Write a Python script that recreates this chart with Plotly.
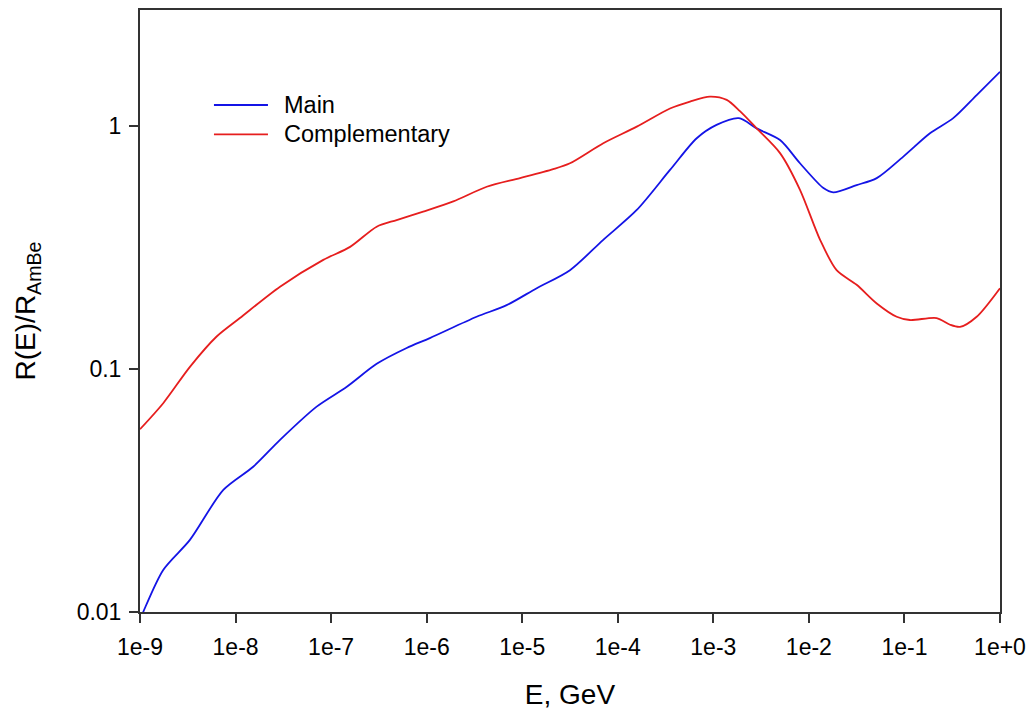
import plotly.graph_objects as go

# Complementary (red)
comp_E = [1.0e-9, 1.75e-9, 3.33e-9, 6.34e-9, 1.11e-8, 2.92e-8, 8.28e-8, 1.58e-7, 3.00e-7,
          4.85e-7, 9.2e-7, 1.90e-6, 4.25e-6, 9.5e-6, 2.11e-5, 3.16e-5, 7.05e-5, 1.58e-4,
          3.52e-4, 5.70e-4, 9.2e-4, 1.38e-3, 1.90e-3, 2.84e-3, 4.99e-3, 8.07e-3, 1.31e-2,
          1.95e-2, 3.16e-2, 5.13e-2, 8.30e-2, 0.114, 0.217, 0.300, 0.382, 0.570, 1.0]
comp_R = [0.0565, 0.0723, 0.102, 0.136, 0.162, 0.218, 0.281, 0.318, 0.385,
          0.410, 0.444, 0.489, 0.562, 0.610, 0.664, 0.702, 0.849, 0.993,
          1.18, 1.26, 1.32, 1.28, 1.15, 0.977, 0.773, 0.546, 0.340,
          0.255, 0.222, 0.186, 0.164, 0.159, 0.162, 0.152, 0.149, 0.164, 0.215]

# Main (blue)
main_E = [1.0e-9, 1.08e-9, 1.75e-9, 3.33e-9, 7.45e-9, 1.53e-8, 2.92e-8, 7.06e-8, 1.46e-7,
          3.00e-7, 6.18e-7, 1.08e-6, 3.33e-6, 6.87e-6, 1.42e-5, 3.16e-5, 7.05e-5,
          1.58e-4, 3.52e-4, 6.70e-4, 1.08e-3, 1.85e-3, 2.84e-3, 4.99e-3,
          8.07e-3, 1.42e-2, 1.80e-2, 3.16e-2, 5.13e-2, 9.73e-2, 0.185, 0.324, 0.570, 1.0]
main_R = [0.0093, 0.0100, 0.0149, 0.0198, 0.0318, 0.0396, 0.0511, 0.070, 0.0845,
          0.105, 0.122, 0.134, 0.164, 0.183, 0.215, 0.255, 0.340,
          0.451, 0.659, 0.890, 1.01, 1.077, 0.977, 0.875,
          0.702, 0.555, 0.533, 0.571, 0.610, 0.748, 0.933, 1.077, 1.34, 1.67]

x_tickvals = [1e-9, 1e-8, 1e-7, 1e-6, 1e-5, 1e-4, 1e-3, 1e-2, 1e-1, 1e0]
x_ticktext = ["1e-9", "1e-8", "1e-7", "1e-6", "1e-5", "1e-4", "1e-3", "1e-2", "1e-1", "1e+0"]
y_tickvals = [0.01, 0.1, 1]
y_ticktext = ["0.01", "0.1", "1"]

series_names = ["Main", "Complementary"]
series_colors = ["#1414e6", "#e61e1e"]

FONT = "Liberation Sans, Arial, sans-serif"

fig = go.Figure()
fig.add_trace(go.Scatter(x=main_E, y=main_R, mode="lines", name=series_names[0],
                         line=dict(color=series_colors[0], width=1.8, shape="spline", smoothing=0.8),
                         showlegend=False))
fig.add_trace(go.Scatter(x=comp_E, y=comp_R, mode="lines", name=series_names[1],
                         line=dict(color=series_colors[1], width=1.8, shape="spline", smoothing=0.8),
                         showlegend=False))

# manual legend (paper coordinates)
leg_y = [0.8422, 0.7935]
for name, col, yy in zip(series_names, series_colors, leg_y):
    fig.add_shape(type="line", xref="paper", yref="paper", x0=0.086, x1=0.1488, y0=yy, y1=yy,
                  line=dict(color=col, width=1.8))
    fig.add_annotation(xref="paper", yref="paper", x=0.1651, y=yy, text=name, showarrow=False,
                       xanchor="left", yanchor="middle", font=dict(family=FONT, size=23.5, color="black"))

axis_common = dict(showline=True, linecolor="#333333", linewidth=2, mirror=True,
                   ticks="outside", ticklen=9, tickwidth=2, tickcolor="#333333",
                   showgrid=False, zeroline=False, automargin=False,
                   ticklabeloverflow="allow",
                   tickfont=dict(family=FONT, size=23, color="black"))

fig.update_xaxes(type="log", range=[-9, 0], tickvals=x_tickvals, ticktext=x_ticktext,
                 ticklabelstandoff=4,
                 title=dict(text="E, GeV", font=dict(family=FONT, size=28, color="black"), standoff=29),
                 **axis_common)
fig.update_yaxes(type="log", range=[-2, 0.477], tickvals=y_tickvals, ticktext=y_ticktext,
                 ticklabelstandoff=3,
                 title=dict(text="R(E)/R<sub>AmBe</sub>", font=dict(family=FONT, size=28, color="black"), standoff=33),
                 **axis_common)

fig.update_layout(width=1027, height=710, margin=dict(l=140, r=27, t=10, b=98),
                  plot_bgcolor="white", paper_bgcolor="white", showlegend=False,
                  font=dict(family=FONT))

fig.write_html("out.html")
